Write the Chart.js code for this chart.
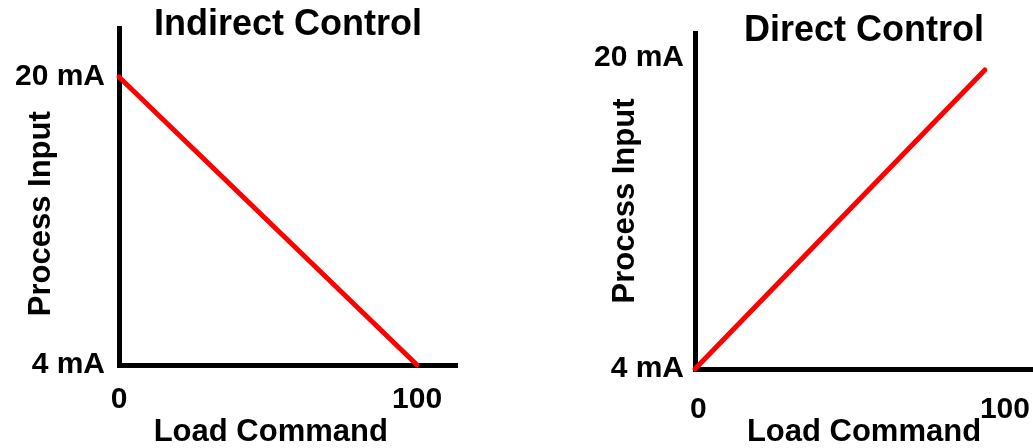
<!DOCTYPE html>
<html>
<head>
<meta charset="utf-8">
<title>Indirect vs Direct Control</title>
<script src="https://cdn.jsdelivr.net/npm/chart.js@4/dist/chart.umd.min.js"></script>
<style>
  html, body { margin: 0; padding: 0; background: #ffffff; }
  #wrap { position: relative; width: 1033px; height: 448px; overflow: hidden; }
  canvas { position: absolute; top: 0; }
  #indirect { left: 0; }
  #direct { left: 560px; }
</style>
</head>
<body>
<div id="wrap">
  <canvas id="indirect" width="540" height="448"></canvas>
  <canvas id="direct" width="473" height="448"></canvas>
</div>
<script>
// Load command (%) and the matching process input (mA) for each control mode
const loadCommand = [0, 100];
const indirectInput = [20, 4];
const directInput = [4, 20];

// Tick values shown on each axis
const loadTicks = [0, 100];
const inputTicks = [4, 20];
const inputUnit = 'mA';

const chartTitles = ['Indirect Control', 'Direct Control'];
const xAxisTitle = 'Load Command';
const yAxisTitle = 'Process Input';

const FONT = "'Liberation Sans', Arial, Helvetica, sans-serif";
const NBSP = '\u00a0';

function points(xs, ys) {
  return xs.map((x, i) => ({ x: x, y: ys[i] }));
}

function fixedTicks(values) {
  return function (scale) {
    scale.ticks = values.map(v => ({ value: v }));
  };
}

// Keep the plot area exactly where the axes are meant to sit:
// no extra room reserved for labels that overhang the axis ends.
function noOverhang(s) {
  s.paddingLeft = 0;
  s.paddingRight = 0;
  s.paddingTop = 0;
  s.paddingBottom = 0;
}

function makeChart(canvasId, cfg) {
  return new Chart(document.getElementById(canvasId), {
    type: 'line',
    data: {
      datasets: [{
        data: points(loadCommand, cfg.input),
        borderColor: '#ff0000',
        borderWidth: 5,
        borderCapStyle: 'round',
        pointRadius: 0,
        tension: 0,
        clip: false
      }]
    },
    options: {
      responsive: false,
      animation: false,
      events: [],
      layout: { padding: { left: 0, top: 0, bottom: 0, right: cfg.rightPad } },
      plugins: {
        legend: { display: false },
        tooltip: { enabled: false },
        title: {
          display: true,
          text: cfg.title,
          color: '#000000',
          fullSize: false,
          font: { family: FONT, size: 36, weight: 'bold', lineHeight: 1 },
          padding: cfg.titlePadding
        }
      },
      scales: {
        x: {
          type: 'linear',
          min: 0,
          max: cfg.xMax,
          grid: { display: false, drawTicks: false },
          border: { display: true, color: '#000000', width: 5 },
          afterBuildTicks: fixedTicks(loadTicks),
          afterFit: s => { s.height = cfg.xAxisHeight; noOverhang(s); },
          ticks: {
            autoSkip: false,
            maxRotation: 0,
            color: '#000000',
            align: cfg.xTickAlign,
            labelOffset: cfg.xLabelOffset,
            padding: cfg.xTickPadding,
            font: { family: FONT, size: 30, weight: 'bold' },
            callback: v => String(v)
          },
          title: {
            display: true,
            text: cfg.xTitle,
            color: '#000000',
            font: { family: FONT, size: 31, weight: 'bold', lineHeight: 1 },
            padding: { top: 0, bottom: 0 }
          }
        },
        y: {
          type: 'linear',
          min: 4,
          max: cfg.yMax,
          grid: { display: false, drawTicks: false },
          border: { display: true, color: '#000000', width: 5 },
          afterBuildTicks: fixedTicks(inputTicks),
          afterFit: s => { s.width = cfg.yAxisWidth; noOverhang(s); },
          ticks: {
            autoSkip: false,
            color: '#000000',
            padding: cfg.yTickPadding,
            font: { family: FONT, size: 30, weight: 'bold', lineHeight: 0.8 },
            callback: cfg.yTickLabel
          },
          title: {
            display: true,
            text: cfg.yTitle,
            color: '#000000',
            font: { family: FONT, size: 31, weight: 'bold', lineHeight: 1 },
            padding: { top: cfg.yTitleGap, bottom: 0 }
          }
        }
      }
    }
  });
}

// Indirect control: input falls from 20 mA to 4 mA as the load command rises
makeChart('indirect', {
  input: indirectInput,
  title: chartTitles[0],
  titlePadding: { top: 7, bottom: -15 },
  rightPad: 83,
  xMax: 113.4,
  yMax: 22.72,
  xAxisHeight: 83,
  yAxisWidth: 119,
  xTickAlign: 'center',
  xLabelOffset: 0,
  xTickPadding: 17,
  yTickPadding: 14,
  yTitleGap: 26,
  xTitle: xAxisTitle + NBSP.repeat(4),
  yTitle: yAxisTitle + NBSP.repeat(4),
  yTickLabel: v => v + ' ' + inputUnit
});

// Direct control: input rises from 4 mA to 20 mA with the load command
makeChart('direct', {
  input: directInput,
  title: chartTitles[1],
  titlePadding: { top: 13, bottom: -16 },
  rightPad: 0,
  xMax: 116.6,
  yMax: 21.98,
  xAxisHeight: 79,
  yAxisWidth: 135,
  xTickAlign: 'start',
  xLabelOffset: -5,
  xTickPadding: 23,
  yTickPadding: 11,
  yTitleGap: 50,
  xTitle: xAxisTitle,
  yTitle: yAxisTitle,
  yTickLabel: v => (v === inputTicks[inputTicks.length - 1]
    ? [v + ' ' + inputUnit, '']
    : v + ' ' + inputUnit)
});
</script>
</body>
</html>
